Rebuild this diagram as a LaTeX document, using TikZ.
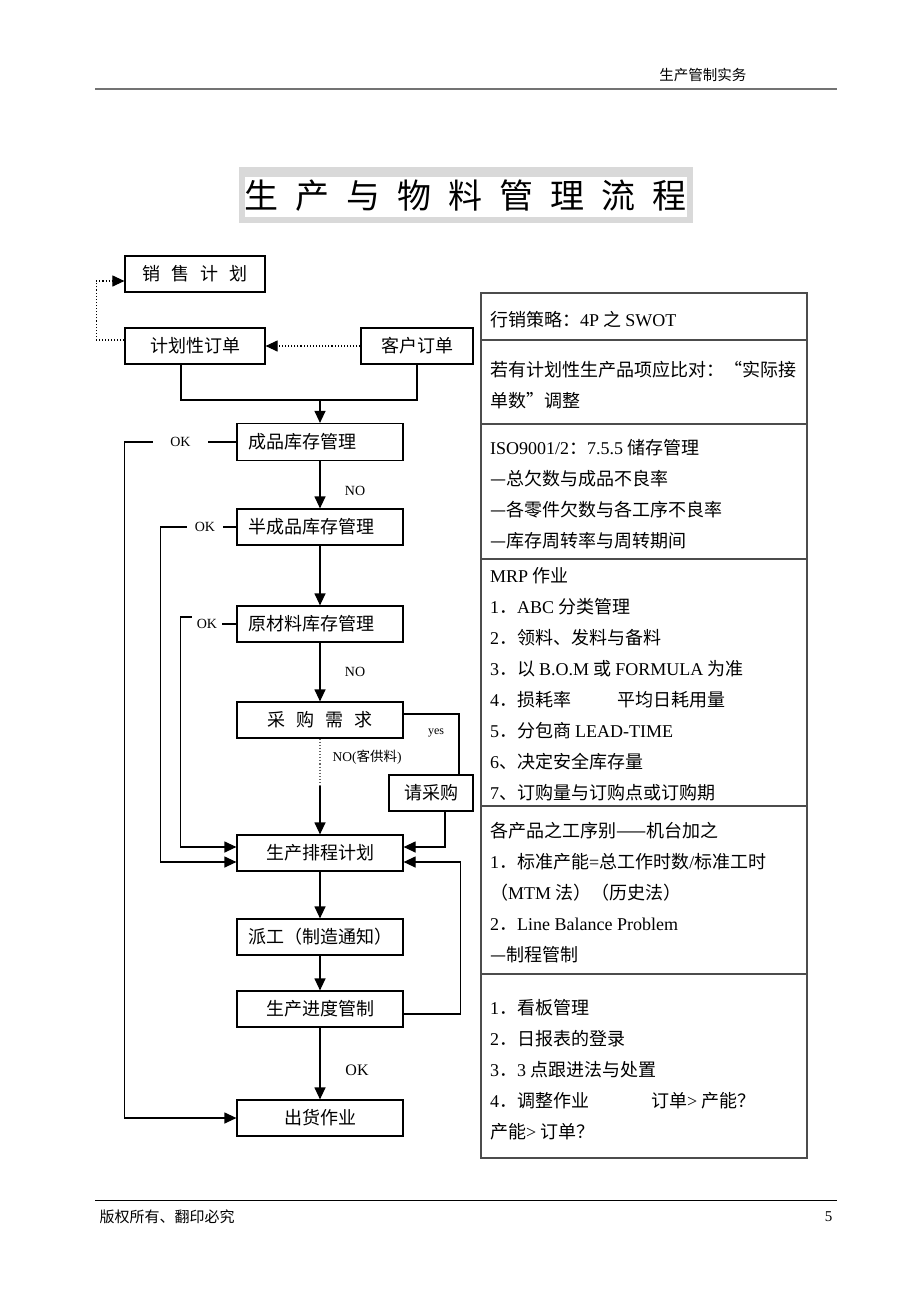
\documentclass[tikz,border=0pt]{standalone}
\usepackage{fontspec}
\setmainfont{Noto Sans CJK SC}
\newfontfamily\cjk{Noto Sans CJK SC}
\newfontfamily\lat{Liberation Serif}
\usetikzlibrary{arrows.meta}

\tikzset{
	flowbox/.style={draw, line width=1.2pt, inner sep=0pt, minimum width=166pt, minimum height=36pt, font=\fontsize{18}{18}\selectfont},
	leftbox/.style={flowbox, text width=144pt, align=left, inner xsep=11pt},
	link/.style={line width=1.2pt},
	arr/.style={line width=1.2pt, -{Triangle[length=12pt,width=11pt]}},
	dotlink/.style={dotted, line width=1.1pt},
	tag/.style={inner sep=0pt, font=\lat\fontsize{14}{14}\selectfont},
	note/.style={anchor=west, align=left, inner sep=0pt, font=\fontsize{18}{31}\selectfont},
}

\begin{document}
\begin{tikzpicture}[x=1pt,y=-1pt]
	\useasboundingbox (0,0) rectangle (920,1302);
	
	% header and footer
	\draw[line width=2.5pt, black!55] (95,89) -- (837,89);
	\node (head) at (750,75) [anchor=east, font=\fontsize{14.5}{14.5}\selectfont]{生产管制实务};
	\draw[line width=1pt] (95,1200) -- (837,1200);
	\node (foot) at (96,1217) [anchor=west, font=\fontsize{15}{15}\selectfont]{版权所有、翻印必究};
	\node (page) at (836,1217) [anchor=east, font=\lat\fontsize{15}{15}\selectfont]{5};
	
	% title
	\fill[black!15] (239,167) rectangle (693,223);
	\fill[white] (245,177) rectangle (687,217);
	\node (title) at (465,196) [font=\fontsize{34}{34}\selectfont]{生\hspace{17pt}产\hspace{17pt}与\hspace{17pt}物\hspace{17pt}料\hspace{17pt}管\hspace{17pt}理\hspace{17pt}流\hspace{17pt}程};
	
	% flow
	\node (sale) at (195,274) [flowbox, minimum width=140pt]{销\hspace{0.6em}售\hspace{0.6em}计\hspace{0.6em}划};
	\node (plan) at (195,346) [flowbox, minimum width=140pt]{计划性订单};
	\node (cust) at (417,346) [flowbox, minimum width=112pt]{客户订单};
	\node (fin) at (320,442) [leftbox, minimum height=37pt]{成品库存管理};
	\node (semi) at (320,527) [leftbox]{半成品库存管理};
	\node (raw) at (320,624) [leftbox]{原材料库存管理};
	\node (buy) at (320,720) [flowbox]{采\hspace{0.6em}购\hspace{0.6em}需\hspace{0.6em}求};
	\node (req) at (431,793) [flowbox, minimum width=84pt]{请采购};
	\node (sched) at (320,853) [flowbox]{生产排程计划};
	\node (disp) at (320,937) [flowbox]{派工（制造通知）};
	\node (prog) at (320,1009) [flowbox]{生产进度管制};
	\node (ship) at (320,1118) [flowbox]{出货作业};
	
	\draw[dotlink, -{Triangle[length=12pt,width=11pt]}] (cust.west) -- (plan.east);
	\draw[dotlink, -{Triangle[length=12pt,width=11pt]}] ([yshift=6pt]plan.west) -- ++(-28,0) |- ([yshift=-7pt]sale.west);
	\coordinate (join) at (320,400);
	\draw[link] ([xshift=-14pt]plan.south) |- (join) -| (cust.south);
	\draw[arr] (join) -- (fin.north);
	
	\node (okA) at (180.5,442) [tag, minimum width=55pt]{OK};
	\draw[link] (fin.west) -- (okA.east);
	\draw[arr] (okA.west) -- ++(-28,0) |- (ship.west);
	\node (okB) at (205,527) [tag, minimum width=36pt]{OK};
	\draw[link] (semi.west) -- (okB.east);
	\draw[arr] (okB.west) -- ++(-26,0) |- ([yshift=-9pt]sched.west);
	\node (okC) at (207,624) [tag, minimum width=30pt]{OK};
	\draw[link] (raw.west) -- (okC.east);
	\draw[arr] ([yshift=7pt]okC.west) -- ++(-11,0) |- ([yshift=6pt]sched.west);
	
	\draw[arr] (fin.south) -- (semi.north);
	\node (noA) at (355,491) [tag]{NO};
	\draw[arr] (semi.south) -- (raw.north);
	\draw[arr] (raw.south) -- (buy.north);
	\node (noB) at (355,672) [tag]{NO};
	
	\coordinate (cut) at (320,786);
	\draw[dotlink, black!60] (buy.south) -- (cut);
	\draw[arr] (cut) -- (sched.north);
	\node (noC) at (367,757) [tag, font=\lat\fontsize{13.5}{13.5}\selectfont]{NO({\cjk 客供料})};
	\draw[link] ([yshift=6pt]buy.east) -| ([xshift=28pt]req.north);
	\node (yes) at (436,733) [tag, font=\lat\fontsize{12}{12}\selectfont]{yes};
	\draw[arr] ([xshift=14pt]req.south) |- ([yshift=6pt]sched.east);
	
	\draw[arr] (sched.south) -- (disp.north);
	\draw[arr] (disp.south) -- (prog.north);
	\draw[arr] ([yshift=-5pt]prog.east) -- ++(57,0) |- ([yshift=-9pt]sched.east);
	\draw[arr] (prog.south) -- (ship.north);
	\node (okD) at (357,1070) [tag, font=\lat\fontsize{16}{16}\selectfont]{OK};
	
	% notes table
	\draw[line width=1.2pt, black!70] (481,293) rectangle (807,1158);
	\foreach \y in {340, 424, 559, 806, 974}{
		\draw[line width=1.2pt, black!70] (481,\y) -- (807,\y);
	}
	\node (r1) at (490,320) [note]{行销策略：{\lat 4P} 之 {\lat SWOT}};
	\node (r2) at (490,385.5) [note]{若有计划性生产品项应比对：“实际接\\单数”调整};
	\node (r3) at (490,494) [note]{{\lat ISO9001/2}：{\lat 7.5.5} 储存管理\\—总欠数与成品不良率\\—各零件欠数与各工序不良率\\—库存周转率与周转期间};
	\node (r4) at (490,684.5) [note]{{\lat MRP} 作业\\{\lat 1}．{\lat ABC} 分类管理\\{\lat 2}．领料、发料与备料\\{\lat 3}．以 {\lat B.O.M} 或 {\lat FORMULA} 为准\\{\lat 4}．损耗率\hspace{46pt}平均日耗用量\\{\lat 5}．分包商 {\lat LEAD-TIME}\\{\lat 6}、决定安全库存量\\{\lat 7}、订购量与订购点或订购期};
	\node (r5) at (490,893) [note]{各产品之工序别——机台加之\\{\lat 1}．标准产能{\lat =}总工作时数{\lat /}标准工时\\（{\lat MTM} 法）（历史法）\\{\lat 2}．{\lat Line Balance Problem}\\—制程管制};
	\node (r6) at (490,1069.5) [note]{{\lat 1}．看板管理\\{\lat 2}．日报表的登录\\{\lat 3}．{\lat 3} 点跟进法与处置\\{\lat 4}．调整作业\hspace{62pt}订单{\lat >} 产能？\\产能{\lat >} 订单？};
\end{tikzpicture}
\end{document}
